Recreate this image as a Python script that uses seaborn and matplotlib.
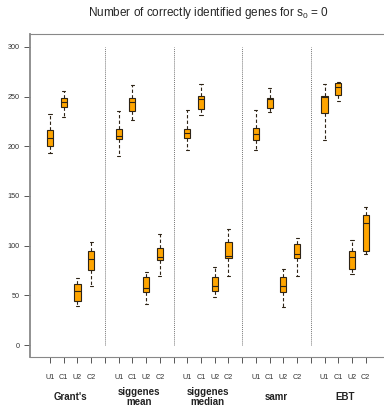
import seaborn as sns
import matplotlib.pyplot as plt
import pandas as pd

# methods and conditions
methods = ["Grant's", "siggenes\nmean", "siggenes\nmedian", "samr", "EBT"]
conds = ["U1", "C1", "U2", "C2"]

# five-number summaries, order: method x (U1, C1, U2, C2)
whisker_lo = [193, 229, 39, 59,
              190, 226, 41, 69,
              196.5, 231.5, 48.5, 69,
              196.5, 235, 38.5, 69,
              206.5, 245.5, 71.5, 91.5]
q1 = [200, 239.5, 44, 76,
      207.5, 236, 53, 86,
      208, 237.5, 54.5, 88,
      206, 239, 53, 88,
      234, 252, 77, 94.5]
med = [208, 244.5, 54.5, 87,
       210, 245, 57.5, 89,
       213, 248, 59.5, 89.5,
       212, 248, 59, 91.5,
       250, 260, 88.5, 122.5]
q3 = [216, 249, 61, 94.5,
      217.5, 249, 68, 98,
      217, 250.5, 68, 104,
      218, 249, 68, 101.5,
      251, 263.5, 95, 131]
whisker_hi = [232.5, 256, 67, 104,
              235.5, 262, 74, 112,
              236.5, 262.5, 79, 117,
              236.5, 258.5, 77, 108,
              262.5, 265, 105.5, 138.5]

# long table: 5 values per box -> quartiles come out exactly with whis=(0, 100)
rows = []
for i, m in enumerate(methods):
    for j, c in enumerate(conds):
        k = i * 4 + j
        pos = i * 5 + j + 1
        for v in (whisker_lo[k], q1[k], med[k], q3[k], whisker_hi[k]):
            rows.append({"pos": pos, "value": v})
df = pd.DataFrame(rows)

sns.set_style("white")
plt.rcParams["font.family"] = ["Liberation Sans", "DejaVu Sans"]

fig = plt.figure(figsize=(3.84, 4.07), dpi=100)
ax = fig.add_axes([30 / 384, 50 / 407, 354 / 384, 323 / 407])

sns.boxplot(data=df, x="pos", y="value", native_scale=True, whis=(0, 100),
            width=0.45, color="#FFA500", saturation=1, linecolor="#2e2416",
            linewidth=0.8, ax=ax,
            whiskerprops={"linestyle": (0, (3, 2))})

# dotted separators between methods
ax.vlines([5, 10, 15, 20], 0, 300, colors="#777777", linestyles=(0, (1, 1)),
          linewidth=0.7)

ax.set_xlim(-0.46, 25.33)
ax.set_ylim(-12, 313)
ax.set_xlabel("")
ax.set_ylabel("")

ticks = list(range(1, 25))
labels = [conds[(t - 1) % 5] if t % 5 != 0 else "" for t in ticks]
ax.set_xticks(ticks)
ax.set_xticklabels(labels)
ax.set_yticks(range(0, 301, 50))
ax.tick_params(axis="x", length=4, width=0.7, color="#555555", pad=8,
               labelsize=5.2, labelcolor="#333333", bottom=True)
ax.tick_params(axis="y", length=4.5, width=0.7, color="#555555", pad=3,
               labelsize=5.2, labelcolor="#333333", left=True)

for side in ["left", "bottom", "top"]:
    ax.spines[side].set_color("#888888")
    ax.spines[side].set_linewidth(0.8)
ax.spines["left"].set_linewidth(1.3)
ax.spines["right"].set_visible(False)

# method names under each group
for i, m in enumerate(methods):
    ax.text(i * 5 + 2.5, -0.124, m, transform=ax.get_xaxis_transform(),
            ha="center", va="center", fontsize=7, fontweight="bold",
            linespacing=1.05, color="#222222")

fig.text(208 / 384, 1 - 13 / 407,
         r"Number of correctly identified genes for $\mathregular{s_0}$ = 0",
         ha="center", va="center", fontsize=8.5)

plt.savefig("out.png", dpi=100)
